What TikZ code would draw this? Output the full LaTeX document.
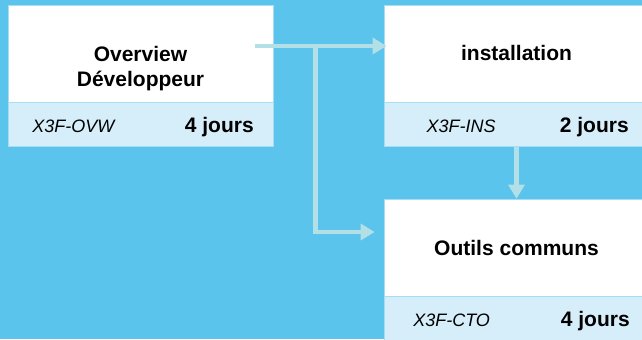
\documentclass[tikz,border=0pt]{standalone}
\usepackage{fontspec}
\setmainfont{Liberation Sans}
\usetikzlibrary{arrows.meta,calc}
\definecolor{skyback}{HTML}{5BC4EC}
\definecolor{stripblue}{HTML}{D6EEF9}
\definecolor{edgeblue}{HTML}{A6DCF4}
\definecolor{flowteal}{HTML}{B3E0E6}
\tikzset{
	titlebox/.style={draw=edgeblue, line width=0.6pt, fill=white, inner sep=0pt,
		minimum width=198.75pt, minimum height=72.75pt},
	infobox/.style={draw=edgeblue, line width=0.6pt, fill=stripblue, inner sep=0pt,
		minimum width=198.75pt, minimum height=33pt},
	coursename/.style={font=\fontsize{15.75}{18.75}\selectfont\bfseries, align=center, inner sep=0pt},
	coursecode/.style={font=\fontsize{13.5}{16}\selectfont\itshape, inner sep=0pt},
	coursedays/.style={font=\fontsize{15.75}{18}\selectfont\bfseries, inner sep=0pt},
	flow/.style={draw=flowteal, line width=3.4pt, -{Triangle[length=10.5pt,width=12pt]}}
}

\begin{document}
\begin{tikzpicture}[x=0.75pt, y=-0.75pt]
		%%%%% START %%%%%
		
		\useasboundingbox[fill=skyback] (0, 0) rectangle (642, 339);
		
		% Overview
		\node[titlebox] (ovw) at (140.5, 53.5) {};
		\node[infobox, anchor=north] (ovwinfo) at (ovw.south) {};
		\node[coursename] (ovwname) at (140.5, 69) {Overview\\Développeur};
		\node[coursecode, anchor=base west] (ovwcode) at (32, 132) {X3F-OVW};
		\node[coursedays, anchor=base east] (ovwdays) at (254, 132) {4 jours};
		
		% installation
		\node[titlebox] (ins) at (516.5, 53.5) {};
		\node[infobox, anchor=north] (insinfo) at (ins.south) {};
		\node[coursename, anchor=base] (insname) at (516.5, 60) {installation};
		\node[coursecode, anchor=base] (inscode) at (461, 132) {X3F-INS};
		\node[coursedays, anchor=base east] (insdays) at (629, 132) {2 jours};
		
		% Outils communs
		\node[titlebox] (cto) at (516.5, 247.5) {};
		\node[infobox, anchor=north] (ctoinfo) at (cto.south) {};
		\node[coursename, anchor=base] (ctoname) at (516.5, 255) {Outils communs};
		\node[coursecode, anchor=base west] (ctocode) at (413, 326) {X3F-CTO};
		\node[coursedays, anchor=base east] (ctodays) at (630, 326) {4 jours};
		
		% arrows
		\coordinate (start) at ([shift={(-18, -7.5)}]ovw.east);
		\coordinate (fork) at ($(start)+(60, 0)$);
		\draw[flow] (start) -- ([xshift=2.25pt]start -| ins.west);
		\draw[flow] (fork) |- ([shift={(-9, -15.5)}]cto.west);
		\draw[flow] (insinfo.south) -- (cto.north);
		
		%%%%% END %%%%%
	\end{tikzpicture}
\end{document}
